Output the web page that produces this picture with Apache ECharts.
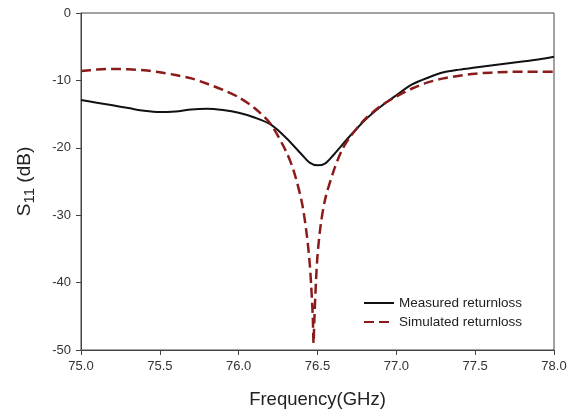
<!DOCTYPE html>
<html><head><meta charset="utf-8">
<script src="https://cdn.jsdelivr.net/npm/echarts@6/dist/echarts.min.js"></script>
<style>html,body{margin:0;padding:0;background:#fff}#c{width:577px;height:414px}</style>
</head><body><div id="c"></div>
<script>
const measuredFreq = [75.0,75.1,75.2,75.3,75.4,75.5,75.6,75.7,75.8,75.9,76.0,76.1,76.2,76.3,76.4,76.45,76.5,76.55,76.6,76.7,76.8,76.9,77.0,77.1,77.2,77.3,77.4,77.5,77.6,77.7,77.8,77.9,78.0];
const measuredS11 = [-12.9,-13.3,-13.7,-14.1,-14.5,-14.7,-14.6,-14.3,-14.2,-14.4,-14.8,-15.5,-16.5,-18.5,-21.0,-22.2,-22.6,-22.3,-21.1,-18.4,-15.9,-13.9,-12.2,-10.6,-9.6,-8.8,-8.4,-8.1,-7.8,-7.5,-7.2,-6.9,-6.5];
const simFreq = [75.0,75.1,75.2,75.3,75.4,75.5,75.6,75.7,75.8,75.9,76.0,76.1,76.2,76.3,76.35,76.4,76.43,76.45,76.46,76.47,76.475,76.48,76.49,76.5,76.52,76.55,76.6,76.65,76.7,76.8,76.9,77.0,77.1,77.2,77.3,77.4,77.5,77.6,77.7,77.8,77.9,78.0];
const simS11 = [-8.6,-8.4,-8.3,-8.35,-8.5,-8.8,-9.2,-9.7,-10.5,-11.4,-12.5,-14.1,-16.4,-20.5,-23.5,-28.0,-32.5,-37.0,-40.5,-45.0,-49.0,-45.5,-40.0,-36.0,-31.5,-27.5,-23.6,-20.6,-18.6,-15.8,-13.8,-12.4,-11.2,-10.3,-9.7,-9.3,-9.0,-8.85,-8.75,-8.7,-8.7,-8.7];
const seriesNames = ['Measured returnloss','Simulated returnloss'];

const font = 'Liberation Sans, Arial, sans-serif';
const chart = echarts.init(document.getElementById('c'));
chart.setOption({
  animation: false,
  grid: {left: 81, right: 23, top: 13, bottom: 61, show: true, borderColor: '#444', borderWidth: 1},
  legend: {
    left: 363, top: 296, orient: 'vertical', itemWidth: 30, itemHeight: 12, itemGap: 5, padding: 0,
    itemStyle: {opacity: 0},
    textStyle: {fontFamily: font, fontSize: 13.5, color: '#222'},
    data: seriesNames
  },
  xAxis: {
    type: 'value', min: 75, max: 78, interval: 0.5,
    name: 'Frequency(GHz)', nameLocation: 'middle', nameGap: 40,
    nameTextStyle: {fontFamily: font, fontSize: 18.5, color: '#222'},
    axisLine: {onZero: false, lineStyle: {color: '#444', width: 1}},
    axisTick: {show: true, inside: false, length: 5, lineStyle: {color: '#444'}},
    axisLabel: {fontFamily: font, fontSize: 13, color: '#333', margin: 10, formatter: v => v.toFixed(1)},
    splitLine: {show: false}
  },
  yAxis: {
    type: 'value', min: -50, max: 0, interval: 10,
    name: '{s|S}{sub|11}{n| (dB)}', nameLocation: 'middle', nameGap: 44, nameRotate: 90,
    nameTextStyle: {fontFamily: font, color: '#222',
      rich: {
        s: {fontFamily: font, fontSize: 19, lineHeight: 24, verticalAlign: 'middle', color: '#222'},
        sub: {fontFamily: font, fontSize: 15, lineHeight: 15, padding: [9,0,0,0], color: '#222'},
        n: {fontFamily: font, fontSize: 19, lineHeight: 24, verticalAlign: 'middle', color: '#222'}
      }},
    axisLine: {show: true, onZero: false, lineStyle: {color: '#444', width: 1}},
    axisTick: {show: true, inside: false, length: 5, lineStyle: {color: '#444'}},
    axisLabel: {fontFamily: font, fontSize: 13, color: '#333', margin: 10},
    splitLine: {show: false}
  },
  series: [
    {name: seriesNames[0], type: 'line', showSymbol: false, symbol: 'none', smooth: 0.3,
     data: measuredFreq.map((f,i) => [f, measuredS11[i]]),
     lineStyle: {color: '#111', width: 2}, itemStyle: {color: '#111'}},
    {name: seriesNames[1], type: 'line', showSymbol: false, symbol: 'none', smooth: 0.3,
     data: simFreq.map((f,i) => [f, simS11[i]]),
     lineStyle: {color: '#8b1a1a', width: 2.5, type: [10, 5]}, itemStyle: {color: '#8b1a1a'}}
  ]
});
</script></body></html>
